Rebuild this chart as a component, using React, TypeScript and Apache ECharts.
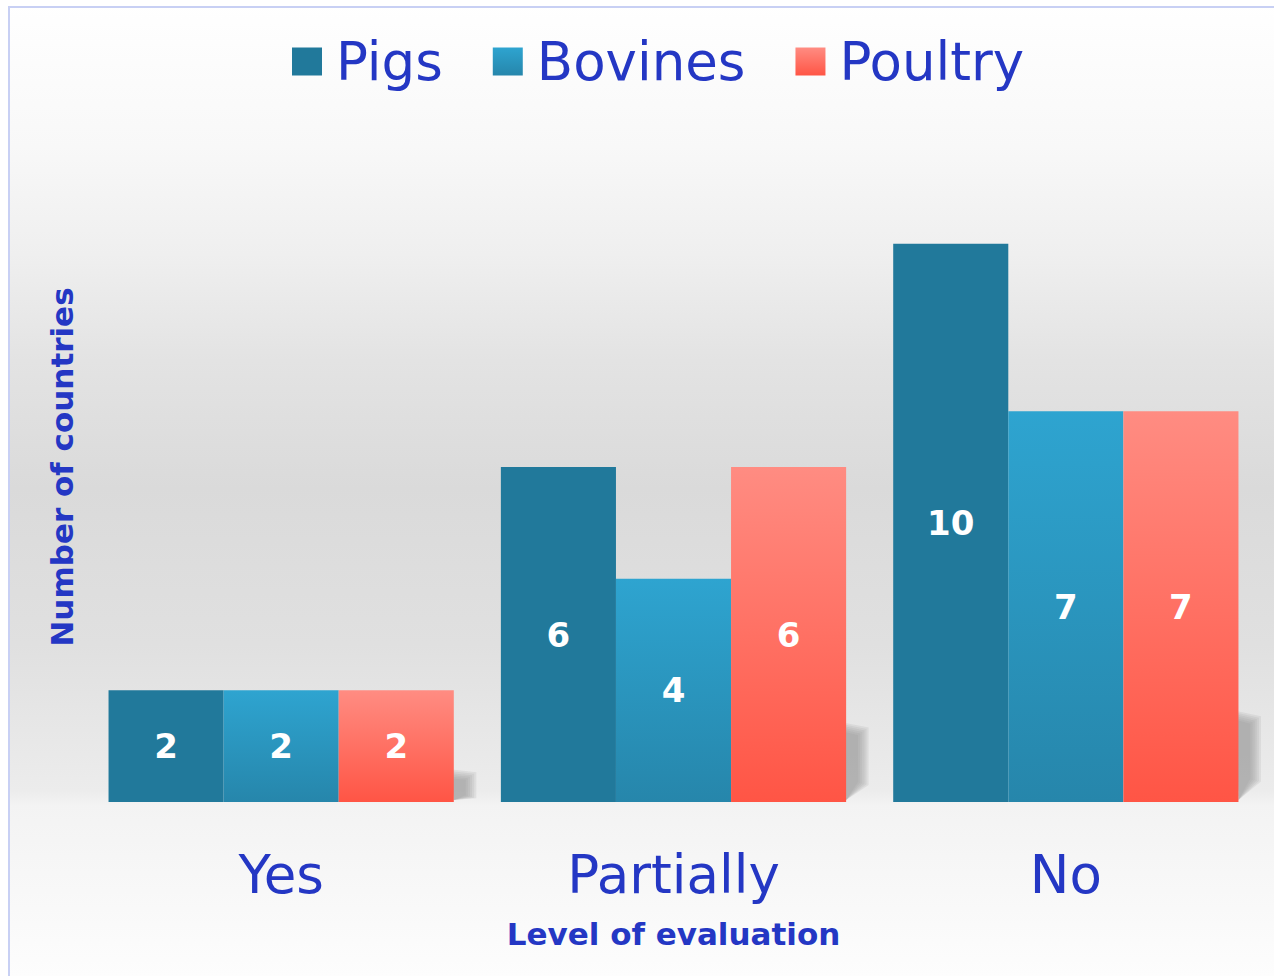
import React, { useEffect, useRef } from "react";
import * as echarts from "echarts";

const categories = ["Yes", "Partially", "No"];
const pigs = [2, 6, 10];
const bovines = [2, 4, 7];
const poultry = [2, 6, 7];
const seriesNames = ["Pigs", "Bovines", "Poultry"];

const BLUE = "#2437c4";
const FONT = "DejaVu Sans";

export default function App() {
  const ref = useRef<HTMLDivElement>(null);
  useEffect(() => {
    if (!ref.current) return;
    const chart = echarts.init(ref.current, undefined, { renderer: "svg" });
    const label = {
      show: true,
      position: "inside",
      color: "#ffffff",
      fontSize: 34,
      fontWeight: "bold",
      fontFamily: FONT,
    };
    const bg = new echarts.graphic.LinearGradient(
      0,
      0,
      0,
      976,
      [
        { offset: 0, color: "#ffffff" },
        { offset: 0.15, color: "#f8f8f8" },
        { offset: 0.26, color: "#efefef" },
        { offset: 0.37, color: "#e3e3e3" },
        { offset: 0.5, color: "#dadada" },
        { offset: 0.66, color: "#e0e0e0" },
        { offset: 0.81, color: "#ececec" },
        { offset: 0.825, color: "#f3f3f3" },
        { offset: 1, color: "#fdfdfd" },
      ],
      true
    );
    chart.setOption({
      animation: false,
      graphic: [
        {
          type: "rect",
          z: -10,
          silent: true,
          shape: { x: 9, y: 7, width: 1300, height: 1000 },
          style: { fill: bg, stroke: "#c8d0f4", lineWidth: 2 },
        },
      ],
      legend: {
        data: seriesNames,
        left: 287,
        top: 30,
        icon: "rect",
        itemWidth: 30,
        itemHeight: 28,
        itemGap: 50,
        textStyle: {
          fontSize: 53,
          color: BLUE,
          fontFamily: FONT,
          padding: [0, 0, 0, 9],
        },
      },
      grid: { left: 85, right: 12, top: 132, bottom: 174 },
      xAxis: {
        type: "category",
        data: categories,
        axisLine: { show: false },
        axisTick: { show: false },
        axisLabel: { fontSize: 53, color: BLUE, fontFamily: FONT, margin: 46 },
        name: "Level of evaluation",
        nameLocation: "middle",
        nameGap: 116,
        nameTextStyle: { fontSize: 31, fontWeight: "bold", color: BLUE, fontFamily: FONT },
      },
      yAxis: {
        type: "value",
        min: 0,
        max: 12,
        axisLine: { show: false },
        axisTick: { show: false },
        axisLabel: { show: false },
        splitLine: { show: false },
        name: "Number of countries",
        nameLocation: "middle",
        nameRotate: 90,
        nameGap: 8,
        nameTextStyle: { fontSize: 31, fontWeight: "bold", color: BLUE, fontFamily: FONT },
      },
      series: [
        {
          type: "custom",
          name: "shadow",
          z: 1,
          silent: true,
          data: poultry.map((v, i) => [i, v]),
          renderItem: (params: any, api: any) => {
            const i = api.value(0);
            const v = api.value(1);
            const base = api.coord([i, 0]);
            const top = api.coord([i, v]);
            const band = api.size([1, 0])[0];
            const xr = base[0] + band * 0.44;
            const h = base[1] - top[1];
            const layers = [];
            for (let k = 0; k < 6; k++) {
              const e = k * 3;
              layers.push({
                type: "polygon",
                shape: {
                  points: [
                    [xr - 2, base[1] - h * 0.21 - e * 0.6],
                    [xr + 12 + e * 0.7, base[1] - h * 0.2 - e * 0.5],
                    [xr + 12 + e * 0.7, base[1] - h * 0.06 + e * 0.2],
                    [xr, base[1] - 2],
                  ],
                },
                style: { fill: "rgba(150,150,150,0.16)" },
              });
            }
            return { type: "group", children: layers };
          },
        },
        {
          name: "Pigs",
          type: "bar",
          z: 3,
          data: pigs,
          barGap: "0%",
          barCategoryGap: "12%",
          itemStyle: { color: "#21799b" },
          label,
        },
        {
          name: "Bovines",
          type: "bar",
          z: 3,
          data: bovines,
          barGap: "0%",
          barCategoryGap: "12%",
          itemStyle: {
            color: new echarts.graphic.LinearGradient(0, 0, 0, 1, [
              { offset: 0, color: "#2ea4d0" },
              { offset: 1, color: "#2686ab" },
            ]),
          },
          label,
        },
        {
          name: "Poultry",
          type: "bar",
          z: 3,
          data: poultry,
          barGap: "0%",
          barCategoryGap: "12%",
          itemStyle: {
            color: new echarts.graphic.LinearGradient(0, 0, 0, 1, [
              { offset: 0, color: "#ff8c82" },
              { offset: 1, color: "#ff5545" },
            ]),
          },
          label,
        },
      ],
    });
    return () => chart.dispose();
  }, []);
  return (
    <div
      ref={ref}
      style={{ position: "absolute", left: 0, top: 0, width: 1274, height: 976 }}
    />
  );
}
